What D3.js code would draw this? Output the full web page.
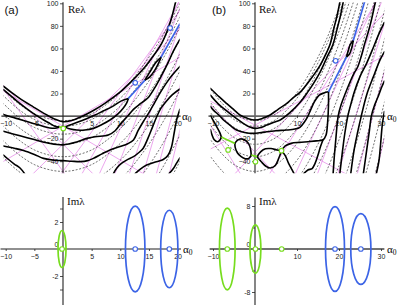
<!DOCTYPE html>
<html>
<head>
<meta charset="utf-8">
<script src="https://cdn.jsdelivr.net/npm/d3@7"></script>
<style>
  body { margin: 0; background: #fff; }
  svg { display: block; }
</style>
</head>
<body>
<svg id="fig" width="398" height="305"></svg>
<script>
// ==========================================================================================
// data  (alpha0 , Re lambda) pairs
// ==========================================================================================

// ---- panel (a), real parts ----
var aTop = [[-10.4,26.5],[-9,21],[-7.5,15.5],[-5.2,8.2],[-3,1.5],[-1.5,-2.5],[0,-5],[1.5,-4],[3,-1],[5.3,5],[7.5,12],[10,21.5],[12,31],[14.3,43.6],[16,55],[17.2,64.3],[18.3,77],[19,88],[19.6,100],[19.9,106]];
var aB = [[-10.4,23.5],[-9,17.5],[-7.5,11],[-5.2,2.4],[-3.5,-3],[-2.3,-6.5],[-1.4,-9],[-0.7,-9.8]];
var aC = [[-10.4,1.5],[-9,-0.8],[-7.5,-3],[-5.2,-6.5],[-3.5,-9],[-2.3,-10.5],[-1.4,-10.8],[-0.7,-9.8]];
var aD = [[0.4,-9.8],[1.2,-8],[2.5,-5.5],[4,-2.5],[5.6,0.9],[7,4.5],[8.5,8.2],[10.2,13.5],[11.4,15.6]];
var aE = [[0.4,-9.8],[1.3,-11.5],[2.4,-12.4],[3.8,-12.3],[5.3,-10.9],[6.8,-7.5],[8.2,-3.5],[9.5,1.5],[10.5,7],[11.1,11.5],[11.4,15.6]];
var aL1 = [[14.3,31.9],[14.9,37],[15.5,42],[16.2,47.5],[17.1,52]];
var aL2 = [[14.3,31.9],[15.2,35],[16,40.5],[16.6,46],[17.1,52]];
var aF = [[-10.4,-13.5],[-7.5,-17.5],[-5.2,-20.6],[-2.5,-24],[0,-25.5],[2.4,-23],[4,-20],[5.6,-18.3],[7.9,-16.8],[9.1,-13],[10.2,-6],[11.3,0],[12.3,6],[13.5,11],[14.8,16],[16,25],[17.2,36],[18.3,47],[19.3,58],[20.4,68]];
var aG = [[-10.4,-26.5],[-8.5,-28.5],[-6.9,-30.5],[-5,-34],[-3.4,-37.5],[-1.5,-39.2],[0,-39.5],[1.5,-40],[3,-40.4],[4.3,-39.5],[5.3,-37.5],[6.8,-33.5],[8.2,-30],[9.95,-27],[11.3,-24.5],[12.3,-21.2],[13.1,-13],[14,-5],[15,3],[16,12],[17,21],[18,29],[19,36],[20.4,44]];
var aI = [[8.8,-51],[9.4,-46],[10.2,-42],[11.1,-39],[12.3,-36],[13.2,-32.5],[14,-28.5],[14.8,-20],[15.6,-10],[16.35,-0.6],[17.1,7],[18,13],[19.1,19],[20.4,24]];
var aJ = [[12.6,-51],[13.5,-47],[14.6,-43.4],[16.3,-40.4],[17.5,-38.5],[18.3,-35],[18.9,-28],[19.4,-15],[19.8,-4],[20.4,6]];
var aK = [[18.5,-51],[19.2,-47],[19.8,-42],[20.4,-37]];
var aH = [[-10.4,-34.5],[-9.5,-38.5],[-8.5,-42.5],[-7.5,-46],[-6.7,-51]];

var aBlue = [[[11.4,15.6],[14.3,31.9]], [[17.1,52],[20.4,82]]];
var aGreen = [[[-0.7,-9.8],[0.4,-9.8]]];
var aBlueDots = [[12.6,29.5],[18.7,78]];
var aGreenDots = [[0.05,-11]];

// ---- panel (b), real parts ----
var bT1 = [[-10.6,24.5],[-8.5,17],[-6.7,11],[-5,5.5],[-3.6,1],[-1.8,-2],[0,-3.5],[1.8,-2],[3.6,1],[5.5,6],[7.5,11],[9,16],[10.7,21],[13.1,32],[15.5,45],[17,56],[17.9,64],[18.8,78],[19.6,90],[20.2,101]];
var bT2 = [[-10.6,18.5],[-8.5,10],[-6,2.4],[-4.3,-2.5],[-2.8,-6.4],[-1.4,-9.5],[0,-10.9],[1.4,-10],[2.8,-8],[4.5,-5.5],[6,-3.5],[8.3,3],[10.7,12],[12.5,21],[13.9,28.8],[15.5,39],[17,51],[18.6,64],[19.6,78],[20.4,90],[21,101]];
var bT3 = [[-10.6,8.5],[-9.9,5.3],[-8.5,0.5],[-7.5,-3.5],[-6,-8],[-4.4,-12.4],[-2.5,-14.5],[-0.4,-15.3],[1.5,-14.6],[2.8,-13.9],[5,-13],[7.5,-12.4],[9.5,-11.5],[10.7,-10],[11.8,-5],[12.6,0],[13.3,6],[14.2,13],[15.3,18.5],[16.4,20.5],[17.5,21.5]];
var bC1 = [[-10.6,0.5],[-10,-3.5],[-9.1,-9.5],[-8.4,-14.5],[-8,-18.5]];
var bC2 = [[-10.6,-12],[-10.2,-17],[-9.7,-21],[-8.9,-22.8],[-8.3,-21],[-8,-18.5]];
var bBlobU = [[-4.8,-24.2],[-4.2,-21.5],[-3.4,-20.3],[-2.4,-21.2],[-1.6,-24],[-1.1,-28.5],[-0.9,-34.5]];
var bBlobL = [[-4.8,-24.2],[-4.7,-28],[-4.2,-32.5],[-3.3,-36],[-2.3,-37.8],[-1.5,-37.5],[-1.1,-36],[-0.9,-34.5]];
var bM1 = [[0.5,-36],[1.4,-31.5],[2.5,-29],[3.8,-28.8],[5.2,-30],[6.3,-30.7]];
var bM2 = [[0.5,-36],[1.5,-40.5],[2.6,-44.5],[3.6,-46],[4.8,-44],[5.7,-37],[6.3,-30.7]];
var bM3 = [[6.3,-30.7],[7.2,-26.5],[8.6,-24.2],[10.6,-23.3],[12.6,-22.7],[14.6,-22],[16.2,-21],[16.9,-17],[17.3,-5],[17.5,10],[17.5,21.5]];
var bM4 = [[6.3,-30.7],[7.2,-35],[8,-42],[8.8,-47.5],[9.3,-51]];
var bQ = [[11.6,-51],[12.6,-47.8],[13.6,-46.5],[14.3,-42],[15,-34.5],[15.6,-27],[16.2,-21]];
var bR3b = [[18.6,-51],[18.9,-35],[19.3,-18],[19.8,0],[20.5,10],[21.5,20],[22.6,30],[23.6,38],[24.5,44],[25.3,53],[26.1,64],[27,75],[27.7,85],[28.6,100],[29,106]];
var bR3 = [[20.2,-51],[20.8,-32],[21.4,-15],[22.1,0],[23,13],[23.6,21],[25,35],[26.6,47],[28.2,61],[29.4,72],[30.8,83]];
var bR4 = [[22.8,-51],[23.6,-30],[24.4,-15],[25.3,0],[26.6,19],[28.2,35],[29.8,50],[30.8,57]];
var bR5 = [[25.8,-51],[26.6,-30],[27.2,-14],[27.7,0],[28.5,10],[29.4,18],[30.2,26],[30.8,31]];
var bR6 = [[28.9,-51],[29.5,-40],[29.9,-25],[30.3,-8],[30.8,4]];
var bL1 = [[21.8,52.5],[22.2,58],[22.7,63.5],[23.4,67]];
var bL2 = [[21.8,52.5],[22.5,55],[23,60],[23.4,67]];

var bBlue = [[[17.5,21.5],[21.8,52.5]], [[23.4,67],[26.3,104]]];
var bGreen = [[[-8,-18.5],[-6.4,-21.4],[-4.8,-24.2]], [[-0.9,-34.5],[0.5,-36]]];
var bBlueDots = [[19.2,49]];
var bGreenDots = [[-6.4,-30],[0.1,-40.5],[6.3,-30.7]];

// ---- dashed curves (same family in both panels) ----
var p4 = [[-11,26],[-8,12],[-5,2],[-2,-3],[0,-4],[2,-3],[5,2],[8,12],[11,26],[14,45],[17,68],[20,96],[21,106]];
var p9 = [[-11,21],[-8,7],[-5,-3],[-2,-8],[0,-9],[2,-8],[5,-3],[8,7],[11,21],[14,40],[17,63],[20,91],[21,101]];
var p16 = [[-11,14],[-8,0],[-5,-10],[-2,-15],[0,-16],[2,-15],[5,-10],[8,0],[11,14],[14,33],[17,56],[20,84],[21,94],[22,105]];
var p25 = [[-11,5],[-8,-9],[-5,-19],[-2,-24],[0,-25],[2,-24],[5,-19],[8,-9],[11,5],[14,24],[17,47],[20,75],[21,85],[22,96],[23,107]];
var p36 = [[-11,-6],[-8,-20],[-5,-30],[-2,-35],[0,-36],[2,-35],[5,-30],[8,-20],[11,-6],[14,13],[17,36],[20,64],[22,85],[23.5,102]];
var p49 = [[-11,-19],[-8,-33],[-5,-43],[-2,-48],[0,-49],[2,-48],[5,-43],[8,-33],[11,-19],[14,0],[17,23],[20,51],[22,72],[24,95],[25,107]];
var p64L = [[-11,-34],[-8,-48],[-6,-55]];
var p64 = [[6,-55],[8,-48],[11,-34],[14,-15],[17,8],[20,36],[22,57],[24,80],[26,105]];
var p81 = [[8,-65],[11,-51],[14,-32],[17,-9],[20,19],[22,40],[24,63],[26,88],[27.5,108]];
var p100 = [[11,-70],[14,-51],[17,-28],[20,0],[22,21],[24,44],[26,69],[28,96],[29,110]];
var p121 = [[14,-72],[17,-49],[20,-21],[22,0],[24,23],[26,48],[28,75],[30,104]];
var p144 = [[17,-72],[20,-44],[22,-23],[24,0],[26,25],[28,52],[30,81],[31,96]];
var p169 = [[19,-79],[22,-48],[24,-25],[26,0],[28,27],[30,56],[31,71]];
var p196 = [[21,-86],[24,-52],[26,-27],[28,0],[30,29],[31,44]];
var p225 = [[24,-81],[26,-56],[28,-29],[30,0],[31,15]];
var p256 = [[27,-74],[28,-60],[30,-31],[31,-16]];

// ---- magenta straight lines (end points) ----
var magA = [
  [[-10.5,24.5],[0.43,-52]], [[-10.5,27.5],[5.4,-52]], [[-10.5,22.5],[14.33,-52]],
  [[-10.5,-40.5],[20.5,52.5]], [[-5.4,-52],[20.5,77.5]], [[-0.43,-52],[20.5,94.5]],
  [[3.22,-52],[20.67,105]], [[6.27,-52],[20.55,105]], [[9,-52],[21.1,105]],
  [[11.53,-52],[20.5,82.5]], [[13.94,-52],[20.5,59.5]], [[16.26,-52],[20.5,28.5]],
  [[18.52,-52],[20.5,-10.5]]
];
var magB = [
  [[-10.6,10.4],[5,-52]], [[-10.6,13.2],[22,-52]], [[-10.6,-8.4],[-3.33,-52]],
  [[-10.6,-29.2],[30.8,53.6]], [[-5,-52],[30.8,91.2]], [[3.33,-52],[29.5,105]],
  [[9.5,-52],[29.1,105]], [[14.8,-52],[30.5,105]], [[19.67,-52],[30.8,81.6]],
  [[24.3,-52],[30.8,39.2]], [[28.75,-52],[30.8,-19.2]]
];

// ---- imaginary parts: [centre alpha0, half width in alpha0, max Im] ----
var greenEllA = [[-0.17,0.7,1.37]];
var blueEllA = [[12.6,1.7,3.17],[18.55,1.5,2.87]];
var greenEllB = [[-6.6,1.86,7.6],[0.1,1.3,4.5]];
var blueEllB = [[19.05,2.26,7.9],[25.2,2.4,6.6]];
var greenOnlyB = [6.35];

// tick values
var reTicks = [-40,-20,20,40,60,80,100];
var xTicksA = [-10,-5,5,10,15,20];
var xTicksB = [-10,10,20,30];

// ==========================================================================================
var GREEN = "#77dd1e", BLUE = "#3c64e6", MAG = "#e68ae8";
var svg = d3.select("#fig");

var xA = d3.scaleLinear().domain([-10, 20]).range([5.7, 177.6]);
var xB = d3.scaleLinear().domain([-10, 30]).range([213, 381]);
var yRe = d3.scaleLinear().domain([-40, 100]).range([161.2, 3.3]);
var yImA = d3.scaleLinear().domain([-2, 2]).range([276, 222]);
var yImB = d3.scaleLinear().domain([-8, 8]).range([292, 206]);

var dashed = [p4, p9, p16, p25, p36, p49, p64L, p64, p81, p100, p121, p144, p169, p196, p225, p256];

function styleAxis(g) {
    g.select(".domain").remove();
    g.attr("font-size", 7).attr("font-family", "'Liberation Sans', Arial, sans-serif").attr("color", "#222");
    g.selectAll(".tick line").attr("stroke-width", 0.8);
}

function alphaLabel(x, y) {
    var t = svg.append("text").attr("x", x).attr("y", y)
        .attr("font-family", "'Liberation Serif', 'Times New Roman', serif").attr("font-size", 11);
    t.append("tspan").text("α");
    t.append("tspan").attr("font-size", 7.5).attr("dy", 2.5).text("0");
}

//==========================================================================================
// upper panels
function topPanel(key, xs, lo, hi, axisColor, axisW, curves, blue, green, blueDots, greenDots, mag, xTicks) {
    svg.append("clipPath").attr("id", "clip" + key).append("rect")
        .attr("x", xs(lo)).attr("y", yRe(101))
        .attr("width", xs(hi) - xs(lo)).attr("height", yRe(-50.6) - yRe(101));

    var line = d3.line().x(function (d) { return xs(d[0]); }).y(function (d) { return yRe(d[1]); })
        .curve(d3.curveCatmullRom.alpha(0.5));
    var straight = d3.line().x(function (d) { return xs(d[0]); }).y(function (d) { return yRe(d[1]); });

    var plot = svg.append("g").attr("clip-path", "url(#clip" + key + ")");

    plot.selectAll("path.mag").data(mag).join("path").attr("class", "mag")
        .attr("d", straight).attr("fill", "none").attr("stroke", MAG).attr("stroke-width", 0.75);

    plot.selectAll("path.dash").data(dashed).join("path").attr("class", "dash")
        .attr("d", line).attr("fill", "none").attr("stroke", "#111")
        .attr("stroke-width", 0.6).attr("stroke-dasharray", "2,1.6");

    // axes
    var axG = svg.append("g");
    axG.append("line").attr("x1", xs(lo) - 2).attr("x2", xs(hi) + 1)
        .attr("y1", yRe(0)).attr("y2", yRe(0)).attr("stroke", axisColor).attr("stroke-width", axisW);
    axG.append("line").attr("x1", xs(0)).attr("x2", xs(0))
        .attr("y1", yRe(101)).attr("y2", yRe(-50.6)).attr("stroke", axisColor).attr("stroke-width", axisW);
    axG.append("g").attr("transform", "translate(" + xs(0) + ",0)")
        .call(d3.axisLeft(yRe).tickValues(reTicks).tickSize(3).tickPadding(1.5))
        .call(styleAxis);
    axG.append("g").attr("transform", "translate(0," + yRe(0) + ")")
        .call(d3.axisBottom(xs).tickValues(xTicks).tickSize(2).tickPadding(3))
        .call(styleAxis);

    var plot2 = svg.append("g").attr("clip-path", "url(#clip" + key + ")");
    plot2.selectAll("path.re").data(curves).join("path").attr("class", "re")
        .attr("d", line).attr("fill", "none").attr("stroke", "#000")
        .attr("stroke-width", 1.6).attr("stroke-linejoin", "round").attr("stroke-linecap", "round");
    plot2.selectAll("path.bl").data(blue).join("path").attr("class", "bl")
        .attr("d", straight).attr("fill", "none").attr("stroke", BLUE).attr("stroke-width", 1.7);
    plot2.selectAll("path.gr").data(green).join("path").attr("class", "gr")
        .attr("d", line).attr("fill", "none").attr("stroke", GREEN).attr("stroke-width", 1.7);
    plot2.selectAll("circle.bd").data(blueDots).join("circle").attr("class", "bd")
        .attr("cx", function (d) { return xs(d[0]); }).attr("cy", function (d) { return yRe(d[1]); })
        .attr("r", 2.3).attr("fill", "#fff").attr("stroke", BLUE).attr("stroke-width", 1.1);
    plot2.selectAll("circle.gd").data(greenDots).join("circle").attr("class", "gd")
        .attr("cx", function (d) { return xs(d[0]); }).attr("cy", function (d) { return yRe(d[1]); })
        .attr("r", 2.3).attr("fill", "#fff").attr("stroke", GREEN).attr("stroke-width", 1.1);
}

topPanel("A", xA, -10.4, 20.35, "#222", 1.1,
    [aTop, aB, aC, aD, aE, aL1, aL2, aF, aG, aI, aJ, aK, aH],
    aBlue, aGreen, aBlueDots, aGreenDots, magA, xTicksA);
topPanel("B", xB, -10.6, 30.8, "#666", 1.6,
    [bT1, bT2, bT3, bC1, bC2, bBlobU, bBlobL, bM1, bM2, bM3, bM4, bQ, bR3b, bR3, bR4, bR5, bR6, bL1, bL2],
    bBlue, bGreen, bBlueDots, bGreenDots, magB, xTicksB);

//==========================================================================================
// lower panels
function bottomPanel(xs, ys, lo, hi, imTop, imBot, yTickVals, yLabelVals, axisColor, axisW, greens, blues, greenOnly, xTicks) {
    var g = svg.append("g");
    g.append("line").attr("x1", xs(lo)).attr("x2", xs(hi))
        .attr("y1", ys(0)).attr("y2", ys(0)).attr("stroke", axisColor).attr("stroke-width", axisW);
    g.append("line").attr("x1", xs(0)).attr("x2", xs(0))
        .attr("y1", ys(imTop)).attr("y2", ys(imBot)).attr("stroke", axisColor).attr("stroke-width", axisW);
    g.append("g").attr("transform", "translate(" + xs(0) + ",0)")
        .call(d3.axisLeft(ys).tickValues(yTickVals).tickSize(3).tickPadding(1.5)
            .tickFormat(function (d) { return yLabelVals.indexOf(d) >= 0 ? d : ""; }))
        .call(styleAxis);
    g.append("text").attr("x", xs(0) - 4.5).attr("y", ys(0) - 2).attr("text-anchor", "end")
        .attr("font-size", 7).attr("font-family", "'Liberation Sans', Arial, sans-serif").attr("fill", "#222").text("0");
    g.append("g").attr("transform", "translate(0," + ys(0) + ")")
        .call(d3.axisBottom(xs).tickValues(xTicks).tickSize(2).tickPadding(3))
        .call(styleAxis);

    function ell(sel, data, col) {
        sel.selectAll(null).data(data).join("ellipse")
            .attr("cx", function (d) { return xs(d[0]); }).attr("cy", ys(0))
            .attr("rx", function (d) { return xs(d[0] + d[1]) - xs(d[0]); })
            .attr("ry", function (d) { return ys(0) - ys(d[2]); })
            .attr("fill", "none").attr("stroke", col).attr("stroke-width", 1.7);
        sel.selectAll(null).data(data).join("circle")
            .attr("cx", function (d) { return xs(d[0]); }).attr("cy", ys(0)).attr("r", 2.3)
            .attr("fill", "#fff").attr("stroke", col).attr("stroke-width", 1.1);
    }
    ell(g.append("g"), greens, GREEN);
    ell(g.append("g"), blues, BLUE);
    g.selectAll(null).data(greenOnly).join("circle")
        .attr("cx", function (d) { return xs(d); }).attr("cy", ys(0)).attr("r", 2.3)
        .attr("fill", "#fff").attr("stroke", GREEN).attr("stroke-width", 1.1);
}

bottomPanel(xA, yImA, -10.9, 20.6, 3.85, -4.3, [-3,-2,2,3], [-2,2], "#222", 1.1,
    greenEllA, blueEllA, [], xTicksA);
bottomPanel(xB, yImB, -10.8, 30.8, 9.6, -10.5, [-8,-4,4,8], [-8,8], "#444", 1.3,
    greenEllB, blueEllB, greenOnlyB, xTicksB);

//==========================================================================================
// labels
function label(x, y, txt, size, family) {
    svg.append("text").attr("x", x).attr("y", y).attr("font-size", size)
        .attr("font-family", family).attr("fill", "#111").text(txt);
}
var SANS = "'Liberation Sans', Arial, sans-serif", SERIF = "'Liberation Serif', 'Times New Roman', serif";
label(4.5, 14, "(a)", 11.5, SANS);
label(212, 14, "(b)", 11.5, SANS);
label(68, 12.5, "Reλ", 11, SERIF);
label(259, 12.5, "Reλ", 11, SERIF);
label(67, 204.5, "Imλ", 11, SERIF);
label(259, 205, "Imλ", 11, SERIF);
alphaLabel(182, 119.5);
alphaLabel(387, 119.5);
alphaLabel(183, 252.5);
alphaLabel(387, 252.5);
</script>
</body>
</html>
